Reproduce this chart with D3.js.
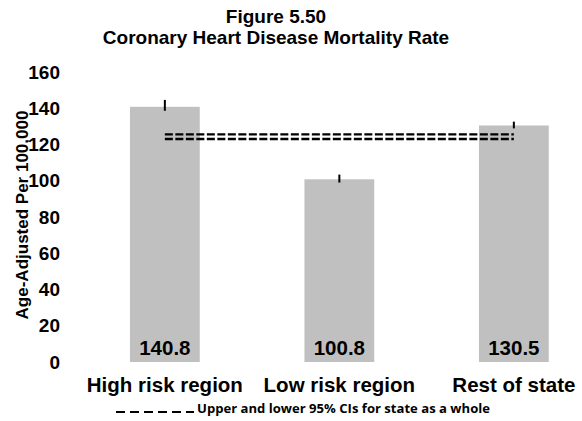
<!DOCTYPE html>
<html>
<head>
<meta charset="utf-8">
<script src="https://cdn.jsdelivr.net/npm/d3@7"></script>
<style>
  html, body { margin: 0; padding: 0; background: #fff; }
  svg { display: block; font-family: Arial, "Liberation Sans", sans-serif; }
</style>
</head>
<body>
<svg id="chart" width="582" height="421"></svg>
<script>
// Coronary heart disease mortality, age-adjusted per 100,000
const categories = ["High risk region", "Low risk region", "Rest of state"];
const rates = [140.8, 100.8, 130.5];
const ciLower = [138.6, 99.0, 128.9];
const ciUpper = [144.6, 103.4, 132.6];
const stateCI = [123.0, 125.6];          // lower and upper 95% CI, state as a whole
const yTicks = [0, 20, 40, 60, 80, 100, 120, 140, 160];

const svg = d3.select("#chart");

const x = d3.scaleBand()
  .domain(categories)
  .range([77.6, 601.1])
  .paddingInner(0.6)
  .paddingOuter(0.3);

const y = d3.scaleLinear().domain([0, 160]).range([362, 72]);

// Title
svg.append("text")
  .attr("x", 276).attr("y", 23)
  .attr("text-anchor", "middle")
  .attr("font-size", 19).attr("font-weight", "bold")
  .text("Figure 5.50");
svg.append("text")
  .attr("x", 276).attr("y", 44)
  .attr("text-anchor", "middle")
  .attr("font-size", 19).attr("font-weight", "bold")
  .text("Coronary Heart Disease Mortality Rate");

// Y axis (labels only)
const yAxis = d3.axisLeft(y).tickValues(yTicks).tickSize(0).tickPadding(0);
const gy = svg.append("g").attr("transform", "translate(60,0)").call(yAxis);
gy.select(".domain").remove();
gy.selectAll("text")
  .attr("font-family", "Arial, 'Liberation Sans', sans-serif")
  .attr("font-size", 19).attr("font-weight", "bold").attr("fill", "#000");

svg.append("text")
  .attr("transform", "translate(28,215) rotate(-90)")
  .attr("text-anchor", "middle")
  .attr("font-size", 17).attr("font-weight", "bold")
  .text("Age-Adjusted Per 100,000");

// Bars
svg.append("g").selectAll("rect")
  .data(categories)
  .join("rect")
  .attr("x", d => x(d))
  .attr("width", x.bandwidth())
  .attr("y", (d, i) => y(rates[i]))
  .attr("height", (d, i) => y(0) - y(rates[i]))
  .attr("fill", "#c0c0c0");

// Error bars
svg.append("g").selectAll("line")
  .data(categories)
  .join("line")
  .attr("x1", d => x(d) + x.bandwidth() / 2)
  .attr("x2", d => x(d) + x.bandwidth() / 2)
  .attr("y1", (d, i) => y(ciLower[i]))
  .attr("y2", (d, i) => y(ciUpper[i]))
  .attr("stroke", "#000").attr("stroke-width", 2);

// State-wide CI reference lines
const cx0 = x(categories[0]) + x.bandwidth() / 2;
const cx1 = x(categories[2]) + x.bandwidth() / 2;
svg.append("g").selectAll("line")
  .data(stateCI)
  .join("line")
  .attr("x1", cx0).attr("x2", cx1)
  .attr("y1", d => y(d)).attr("y2", d => y(d))
  .attr("stroke", "#000").attr("stroke-width", 2.4)
  .attr("stroke-dasharray", "8,2.5");

// Value labels inside bars
svg.append("g").selectAll("text")
  .data(categories)
  .join("text")
  .attr("x", d => x(d) + x.bandwidth() / 2)
  .attr("y", 355)
  .attr("text-anchor", "middle")
  .attr("font-size", 20.5).attr("font-weight", "bold")
  .text((d, i) => rates[i].toFixed(1));

// Category labels
const xAxis = d3.axisBottom(x).tickSize(0).tickPadding(0);
const gx = svg.append("g").attr("transform", "translate(0,377)").call(xAxis);
gx.select(".domain").remove();
gx.selectAll("text")
  .attr("font-family", "Arial, 'Liberation Sans', sans-serif")
  .attr("font-size", 20.5).attr("font-weight", "bold").attr("fill", "#000");

// Legend
svg.append("line")
  .attr("x1", 116).attr("x2", 194)
  .attr("y1", 412).attr("y2", 412)
  .attr("stroke", "#000").attr("stroke-width", 2)
  .attr("stroke-dasharray", "9,5");
svg.append("text")
  .attr("x", 197).attr("y", 413)
  .attr("font-family", "'Open Sans', 'Noto Sans', sans-serif")
  .attr("font-size", 11.5).attr("font-weight", "bold")
  .attr("textLength", 293).attr("lengthAdjust", "spacingAndGlyphs")
  .text("Upper and lower 95% CIs for state as a whole");
</script>
</body>
</html>
